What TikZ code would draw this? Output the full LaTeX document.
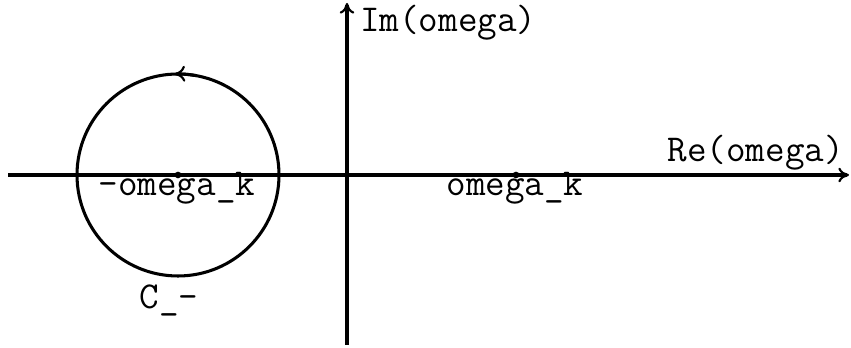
\documentclass[tikz,border=0pt]{standalone}
\usetikzlibrary{arrows.meta,positioning}

\begin{document}
\begin{tikzpicture}[x=0.75pt,y=0.75pt,
    axis/.style={line width=2.3pt,-{To[length=8pt,width=11pt,line width=1.6pt]}},
    lbl/.style={font=\ttfamily\fontsize{28.5}{28.5}\selectfont,inner sep=0pt},
    pole/.style={circle,fill,inner sep=0pt,minimum size=5pt}]
    \useasboundingbox (0,0) rectangle (851,348);
    % axes
    \coordinate (xl) at (8,173);
    \coordinate (xr) at (849,173);
    \coordinate (yb) at (347,3);
    \coordinate (yt) at (347,345);
    \draw[axis] (xl) -- (xr);
    \draw[axis] (yb) -- (yt);
    \node[lbl,anchor=base west] (im) at (360,316) {Im(omega)};
    \node[lbl,anchor=base east] (re) at (844,186) {Re(omega)};
    % poles
    \node[pole] (pm) at (178,173) {};
    \node[pole] (pp) at (516,173) {};
    \node[lbl,anchor=base] (pml) at (177,152) {-omega\_k};
    \node[lbl,anchor=base] (ppl) at (515,152) {omega\_k};
    % contour
    \draw[line width=2.3pt] (pm) circle[radius=101];
    \draw[line width=2.3pt,-{To[length=8pt,width=12pt,line width=1.6pt]}] (pm) ++(80:101) arc[start angle=80,end angle=92,radius=101];
    \node[lbl,anchor=base] (cm) at (169,39) {C\_-};
\end{tikzpicture}
\end{document}
